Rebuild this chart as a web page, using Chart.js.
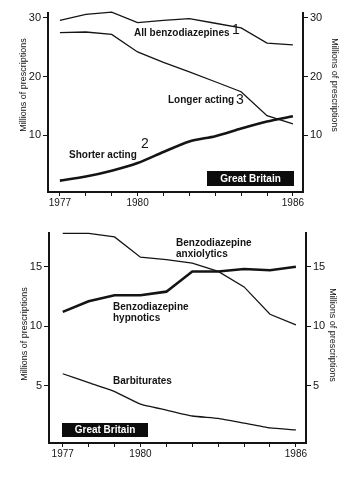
<!DOCTYPE html>
<html>
<head>
<meta charset="utf-8">
<script src="https://cdn.jsdelivr.net/npm/chart.js@4.4.1/dist/chart.umd.min.js"></script>
<style>
  html, body { margin: 0; padding: 0; background: #fff; }
  #wrap { position: relative; width: 360px; height: 480px; }
  canvas { position: absolute; left: 0; }
  #topChart { top: 0; }
  #bottomChart { top: 220px; }
</style>
</head>
<body>
<div id="wrap">
  <canvas id="topChart" width="360" height="220"></canvas>
  <canvas id="bottomChart" width="360" height="260"></canvas>
</div>
<script>
// data (millions of prescriptions, Great Britain)
const years = [1977, 1978, 1979, 1980, 1981, 1982, 1983, 1984, 1985, 1986];
const yearLabels = [1977, 1980, 1986];

const allBenzo      = [29.6, 30.6, 31.0, 29.2, 29.6, 29.9, 29.1, 28.3, 25.7, 25.4];
const longerActing  = [27.5, 27.6, 27.2, 24.2, 22.4, 20.8, 19.1, 17.4, 13.3, 11.9];
const shorterActing = [2.2, 2.9, 3.9, 5.2, 7.1, 8.9, 9.8, 11.1, 12.3, 13.2];

const anxiolytics  = [17.8, 17.8, 17.5, 15.8, 15.6, 15.3, 14.6, 13.3, 11.0, 10.1];
const hypnotics    = [11.2, 12.1, 12.6, 12.6, 12.9, 14.6, 14.6, 14.8, 14.7, 15.0];
const barbiturates = [6.0, 5.25, 4.5, 3.45, 2.95, 2.45, 2.25, 1.85, 1.45, 1.28];

const topTicks = [10, 20, 30];
const bottomTicks = [5, 10, 15];

const ink = '#141414';
const yTitle = 'Millions of prescriptions';
const labelFont = 'bold 10px "Liberation Sans", Arial, sans-serif';
const numFont = '14px "Liberation Sans", Arial, sans-serif';
const titleFont = '9px "Liberation Sans", Arial, sans-serif';

Chart.defaults.font.family = '"Liberation Sans", Arial, sans-serif';
Chart.defaults.color = ink;

// draws the free text, axis titles and the black "Great Britain" tag
const textNotes = {
    id: 'textNotes',
    afterDraw(chart, args, opts) {
        const ctx = chart.ctx;
        (opts.items || []).forEach(it => {
            ctx.save();
            if (it.box) {
                ctx.fillStyle = '#0c0c0c';
                ctx.fillRect(it.x, it.y, it.w, it.h);
                ctx.fillStyle = '#fff';
                ctx.font = labelFont;
                ctx.textAlign = 'center';
                ctx.textBaseline = 'middle';
                ctx.fillText(it.text, it.x + it.w / 2, it.y + it.h / 2 + 0.5);
            } else {
                ctx.translate(it.x, it.y);
                if (it.rotate) ctx.rotate(it.rotate);
                ctx.font = it.font || labelFont;
                ctx.fillStyle = ink;
                ctx.textAlign = it.align || 'left';
                ctx.textBaseline = 'middle';
                ctx.fillText(it.text, 0, 0);
            }
            ctx.restore();
        });
    }
};

function series(values, width, tension) {
    return {
        data: years.map((yr, i) => ({ x: yr, y: values[i] })),
        borderColor: ink,
        borderWidth: width,
        pointRadius: 0,
        tension: tension,
        clip: false
    };
}

function yAxis(pos, min, max, ticks, width) {
    return {
        type: 'linear',
        position: pos,
        min: min,
        max: max,
        afterBuildTicks: s => { s.ticks = ticks.map(v => ({ value: v })); },
        afterFit: s => { s.width = width; },
        ticks: { font: { size: 11 }, color: ink, padding: 2 },
        grid: { drawOnChartArea: false, tickLength: 5, color: ink, lineWidth: 1 },
        border: { width: 2, color: ink }
    };
}

function xAxis(min, max, height) {
    return {
        type: 'linear',
        min: min,
        max: max,
        afterBuildTicks: s => { s.ticks = years.map(v => ({ value: v })); },
        afterFit: s => { s.height = height; },
        ticks: {
            font: { size: 10 },
            color: ink,
            padding: 1,
            maxRotation: 0,
            autoSkip: false,
            callback: v => yearLabels.includes(v) ? String(v) : ''
        },
        grid: { drawOnChartArea: false, tickLength: 4, color: ink, lineWidth: 1 },
        border: { width: 2, color: ink }
    };
}

function baseOptions(scales, notes) {
    return {
        responsive: false,
        animation: false,
        devicePixelRatio: 1,
        layout: { padding: { top: 13, left: 0, right: 0, bottom: 0 } },
        plugins: {
            legend: { display: false },
            tooltip: { enabled: false },
            textNotes: { items: notes }
        },
        scales: scales
    };
}

new Chart(document.getElementById('topChart'), {
    type: 'line',
    data: {
        datasets: [
            series(allBenzo, 1.3, 0),
            series(longerActing, 1.3, 0),
            series(shorterActing, 2.6, 0.25)
        ]
    },
    options: baseOptions({
        x: xAxis(1976.54, 1986.39, 28),
        y: yAxis('left', 0.26, 30.85, topTicks, 48),
        y2: yAxis('right', 0.26, 30.85, topTicks, 57)
    }, [
        { text: yTitle, x: 24, y: 85, rotate: -Math.PI / 2, align: 'center', font: titleFont },
        { text: yTitle, x: 334, y: 85, rotate: Math.PI / 2, align: 'center', font: titleFont },
        { text: 'All benzodiazepines', x: 134, y: 33 },
        { text: '1', x: 232, y: 30, font: numFont },
        { text: 'Longer acting', x: 168, y: 100 },
        { text: '3', x: 236, y: 100, font: numFont },
        { text: 'Shorter acting', x: 69, y: 155 },
        { text: '2', x: 141, y: 144, font: numFont },
        { box: true, text: 'Great Britain', x: 207, y: 171, w: 87, h: 15 }
    ]),
    plugins: [textNotes]
});

new Chart(document.getElementById('bottomChart'), {
    type: 'line',
    data: {
        datasets: [
            series(anxiolytics, 1.3, 0),
            series(hypnotics, 2.6, 0),
            series(barbiturates, 1.3, 0.15)
        ]
    },
    options: baseOptions({
        x: xAxis(1976.47, 1986.39, 37),
        y: yAxis('left', 0.18, 17.83, bottomTicks, 49),
        y2: yAxis('right', 0.18, 17.83, bottomTicks, 54)
    }, [
        { text: yTitle, x: 25, y: 114, rotate: -Math.PI / 2, align: 'center', font: titleFont },
        { text: yTitle, x: 332, y: 115, rotate: Math.PI / 2, align: 'center', font: titleFont },
        { text: 'Benzodiazepine', x: 176, y: 23 },
        { text: 'anxiolytics', x: 176, y: 34 },
        { text: 'Benzodiazepine', x: 113, y: 87 },
        { text: 'hypnotics', x: 113, y: 98 },
        { text: 'Barbiturates', x: 113, y: 161 },
        { box: true, text: 'Great Britain', x: 62, y: 203, w: 86, h: 14 }
    ]),
    plugins: [textNotes]
});
</script>
</body>
</html>
